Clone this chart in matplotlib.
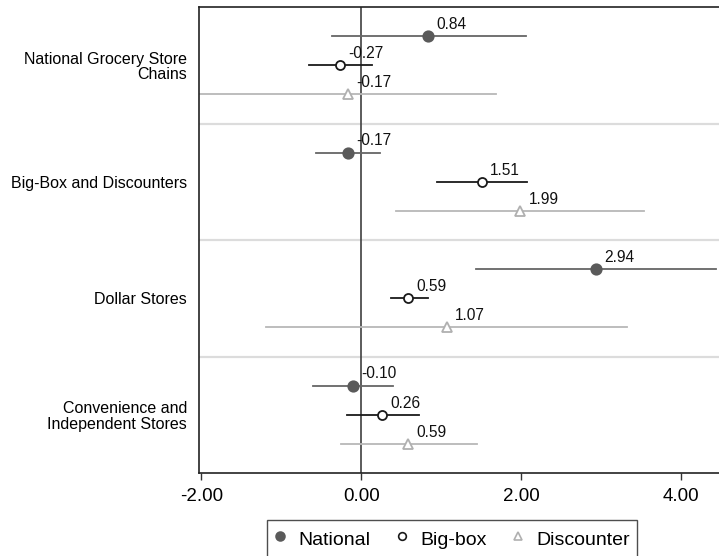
import matplotlib
matplotlib.use("Agg")
import matplotlib.pyplot as plt
from matplotlib.lines import Line2D

plt.rcParams["font.family"] = ["Liberation Sans", "DejaVu Sans"]

# 分组与序列
groups = ["National Grocery Store\nChains", "Big-Box and Discounters",
          "Dollar Stores", "Convenience and\nIndependent Stores"]
series = ["National", "Big-box", "Discounter"]

national = [0.84, -0.17, 2.94, -0.10]
national_lo = [-0.37, -0.57, 1.44, -0.60]
national_hi = [2.06, 0.23, 4.44, 0.40]

bigbox = [-0.27, 1.51, 0.59, 0.26]
bigbox_lo = [-0.66, 0.95, 0.37, -0.18]
bigbox_hi = [0.13, 2.07, 0.83, 0.72]

discounter = [-0.17, 1.99, 1.07, 0.59]
discounter_lo = [-2.02, 0.44, -1.19, -0.25]
discounter_hi = [1.68, 3.54, 3.33, 1.45]

xticks = [-2, 0, 2, 4]

STYLES = [
    dict(est=national, lo=national_lo, hi=national_hi, line="#666666",
         marker="o", mfc="#5a5a5a", mec="#5a5a5a", ms=7.5),
    dict(est=bigbox, lo=bigbox_lo, hi=bigbox_hi, line="#1a1a1a",
         marker="o", mfc="white", mec="#1a1a1a", ms=6.5),
    dict(est=discounter, lo=discounter_lo, hi=discounter_hi, line="#b8b8b8",
         marker="^", mfc="white", mec="#b0b0b0", ms=7.5),
]

fig = plt.figure(figsize=(7.19, 5.56), dpi=100)
ax = fig.add_axes([199 / 719, 83 / 556, 520 / 719, 466 / 556])

ax.axvline(0, color="#404040", lw=1.2, zorder=1)
for g in range(1, len(groups)):
    ax.axhline(4 * g, color="#dcdcdc", lw=1.6, zorder=0)

for k, st in enumerate(STYLES):
    for g in range(len(groups)):
        y = 4 * g + k + 1
        ax.plot([st["lo"][g], st["hi"][g]], [y, y], color=st["line"], lw=1.3, zorder=2)
        ax.plot(st["est"][g], y, marker=st["marker"], ms=st["ms"], mfc=st["mfc"],
                mec=st["mec"], mew=1.3, ls="none", zorder=3)
        ax.annotate(f"{st['est'][g]:.2f}", (st["est"][g], y), xytext=(6, 3),
                    textcoords="offset points", ha="left", va="bottom",
                    fontsize=11.2, color="#111111", zorder=4)

ax.set_xlim(-2.03, 4.475)
ax.set_ylim(16, 0)
ax.set_xticks(xticks)
ax.set_xticklabels([f"{v:.2f}" for v in xticks], fontsize=13.5)
ax.set_yticks([4 * g + 2 for g in range(len(groups))])
ax.set_yticklabels(groups, fontsize=11.5, ha="right", linespacing=1.05)
ax.tick_params(axis="y", length=0, pad=8.5)
ax.tick_params(axis="x", length=5, width=1, color="#333333", pad=6)
for s in ["left", "top", "bottom"]:
    ax.spines[s].set_color("#222222")
    ax.spines[s].set_linewidth(1.2)
ax.spines["right"].set_visible(False)

handles = [Line2D([], [], ls="none", marker=st["marker"], mfc=st["mfc"], mec=st["mec"],
                  mew=1.2, ms=st["ms"] * 0.85) for st in STYLES]
fig.legend(handles, series, loc="upper center", bbox_to_anchor=(452 / 719, 1 - 520 / 556),
           ncol=3, frameon=True, fancybox=False, edgecolor="#222222", fontsize=14,
           handletextpad=0.65, columnspacing=1.3, borderpad=0.35, handlelength=0.6,
           handleheight=1.45, borderaxespad=0)

fig.savefig("out.png", dpi=100)
